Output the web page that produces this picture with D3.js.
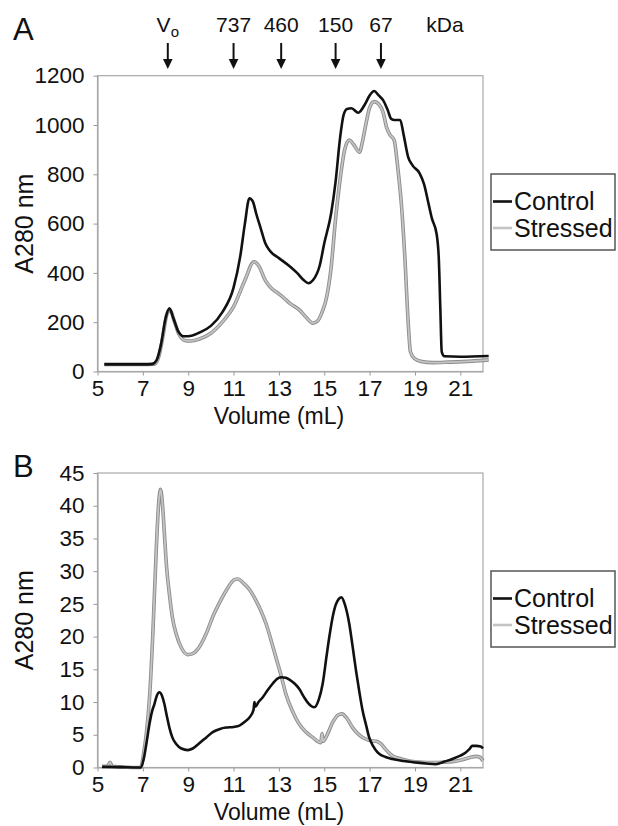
<!DOCTYPE html>
<html>
<head>
<meta charset="utf-8">
<script src="https://cdn.jsdelivr.net/npm/d3@7"></script>
<style>
  body { margin: 0; background: #fff; }
  svg text { font-family: "Liberation Sans", Arial, sans-serif; fill: #111; }
</style>
</head>
<body>
<svg id="chart" width="618" height="826"></svg>
<script>
// ---- data (volume mL, A280) ----
const markerVolumes = [8.1, 11, 13.1, 15.5, 17.5];
const markerLabels = ['V', '737', '460', '150', '67'];
const seriesNames = ['Control', 'Stressed'];

const controlA = [[5.3,29],[6,29],[7,29],[7.4,30],[7.6,45],[7.8,110],[8,215],[8.17,256],[8.35,215],[8.55,165],[8.8,143],[9,143],[9.5,158],[10,185],[10.5,240],[11,340],[11.3,470],[11.5,600],[11.7,703],[11.85,690],[12,640],[12.2,580],[12.4,520],[12.6,490],[13,460],[13.5,425],[13.8,400],[14.1,370],[14.3,358],[14.5,370],[14.8,430],[15,520],[15.3,640],[15.5,770],[15.7,950],[15.85,1040],[16,1065],[16.2,1068],[16.5,1050],[16.8,1085],[17,1120],[17.2,1138],[17.4,1120],[17.6,1100],[17.8,1060],[17.95,1025],[18.1,1020],[18.35,1020],[18.5,960],[18.7,870],[18.9,835],[19.2,805],[19.4,760],[19.6,680],[19.75,620],[19.95,560],[20.05,460],[20.12,250],[20.18,80],[20.3,62],[21,60],[22.25,63]];
const stressedA = [[5.3,29],[7,29],[7.5,30],[7.7,60],[7.9,150],[8.05,230],[8.2,250],[8.4,200],[8.6,150],[8.85,126],[9.1,124],[9.5,132],[10,155],[10.5,200],[11,263],[11.5,370],[11.9,445],[12.1,430],[12.4,370],[12.7,335],[13,315],[13.2,300],[13.5,275],[13.9,250],[14.2,220],[14.5,196],[14.7,205],[14.9,240],[15.1,300],[15.3,420],[15.5,620],[15.7,780],[15.9,900],[16.1,939],[16.3,920],[16.55,890],[16.7,940],[16.85,1010],[17,1070],[17.2,1095],[17.4,1085],[17.6,1050],[17.75,990],[17.9,960],[18.08,939],[18.25,820],[18.4,680],[18.55,470],[18.7,200],[18.8,80],[18.97,53],[19.3,40],[19.8,36],[20.5,38],[21.5,42],[22.25,47]];

const controlB = [[5.2,0.1],[6,0.05],[6.9,0],[7.05,1.5],[7.15,3.5],[7.29,6.6],[7.4,8.5],[7.51,9.7],[7.62,11],[7.73,11.5],[7.84,11],[7.95,9.7],[8.05,8],[8.17,6.1],[8.3,4.6],[8.47,3.6],[8.7,2.9],[8.98,2.65],[9.2,2.9],[9.49,3.7],[9.8,4.6],[10.08,5.4],[10.4,5.9],[10.67,6.1],[11,6.2],[11.26,6.4],[11.5,7],[11.7,7.65],[11.88,8.8],[11.92,10],[11.96,9.3],[12.1,10],[12.28,10.7],[12.5,11.8],[12.72,12.8],[12.9,13.5],[13.09,13.8],[13.3,13.7],[13.48,13.4],[13.7,12.8],[13.9,12],[14.1,10.8],[14.3,9.8],[14.56,9.2],[14.75,10.3],[14.93,12.8],[15.1,17],[15.22,19.9],[15.4,23.5],[15.52,25],[15.76,26],[15.9,25],[16.1,22],[16.25,18.5],[16.4,14.8],[16.55,11.5],[16.69,8.7],[16.85,6.4],[16.98,4.6],[17.15,3.3],[17.35,2.3],[17.7,1.6],[18,1.3],[18.5,1],[19.04,0.77],[19.5,0.6],[19.92,0.5],[20.3,0.9],[20.65,1.3],[21,1.8],[21.24,2.3],[21.4,2.8],[21.53,3.3],[21.7,3.3],[21.9,3.2],[22,2.9]];
const stressedB = [[5.2,0.2],[5.45,0.2],[5.55,0.8],[5.65,0.2],[6,0.1],[6.5,0],[6.9,0],[7.05,2.5],[7.15,5.1],[7.3,11],[7.44,20.4],[7.59,33.2],[7.7,40.5],[7.78,42.5],[7.87,40],[7.95,35.7],[8.05,30.5],[8.17,26.5],[8.3,23],[8.47,20.4],[8.7,18.3],[8.98,17.25],[9.2,17.4],[9.49,18.4],[9.8,20.5],[10.08,23],[10.4,25.3],[10.67,27],[11.04,28.7],[11.2,28.8],[11.4,28.3],[11.7,27.2],[11.99,25.5],[12.2,24],[12.43,22],[12.65,19.5],[12.87,16.8],[13.1,14],[13.31,11.2],[13.6,8.6],[13.9,6.6],[14.2,5.4],[14.49,4.6],[14.85,3.8],[14.9,5.2],[14.95,4],[15.1,4.8],[15.37,6.9],[15.6,8],[15.78,8.2],[16,7.5],[16.25,6.1],[16.5,5.1],[16.69,4.6],[17.06,4.1],[17.3,4],[17.5,3.6],[17.75,2.6],[18,1.8],[18.4,1.3],[18.74,1],[19.3,0.8],[19.77,0.77],[20.2,0.8],[20.65,0.9],[21,1.1],[21.39,1.5],[21.7,1.7],[21.85,1.6],[22,1]];

const xTicks = [5, 7, 9, 11, 13, 15, 17, 19, 21];
const yTicksA = [0, 200, 400, 600, 800, 1000, 1200];
const yTicksB = [0, 5, 10, 15, 20, 25, 30, 35, 40, 45];

const svg = d3.select('#chart');
const left = 97.5, right = 483;

// Función para dibujar un panel
function drawPanel(opt) {
  const x = d3.scaleLinear().domain([5, 22]).range([left, right]);
  const y = d3.scaleLinear().domain([0, opt.yMax]).range([opt.bottom, opt.top]);
  const g = svg.append('g');

  g.append('rect')
    .attr('x', left).attr('y', opt.top)
    .attr('width', right - left).attr('height', opt.bottom - opt.top)
    .attr('fill', 'none').attr('stroke', '#a8a8a8').attr('stroke-width', 1.2);

  const xa = g.append('g').attr('transform', `translate(0,${opt.bottom})`)
    .call(d3.axisBottom(x).tickValues(xTicks).tickFormat(d3.format('d'))
      .tickSize(4).tickPadding(5).tickSizeOuter(0));
  const ya = g.append('g').attr('transform', `translate(${left},0)`)
    .call(d3.axisLeft(y).tickValues(opt.yTicks).tickFormat(d3.format('d'))
      .tickSize(4).tickPadding(9).tickSizeOuter(0));
  [xa, ya].forEach(a => {
    a.select('.domain').attr('stroke', '#a8a8a8').attr('stroke-width', 1.2);
    a.selectAll('.tick line').attr('stroke', '#999');
    a.selectAll('.tick text').attr('font-size', 22.5).attr('fill', '#111')
      .style('font-family', '"Liberation Sans", Arial, sans-serif');
  });

  const line = d3.line().x(d => x(d[0])).y(d => y(d[1])).curve(d3.curveMonotoneX);

  // Stressed: gris claro con borde más oscuro
  g.append('path').datum(opt.stressed).attr('d', line)
    .attr('fill', 'none').attr('stroke', '#8c8c8c').attr('stroke-width', 3.6);
  g.append('path').datum(opt.stressed).attr('d', line)
    .attr('fill', 'none').attr('stroke', '#c4c4c4').attr('stroke-width', 1.8);
  // Control
  g.append('path').datum(opt.control).attr('d', line)
    .attr('fill', 'none').attr('stroke', '#111').attr('stroke-width', 2.6);

  // Títulos de ejes
  g.append('text').attr('x', 279).attr('y', opt.bottom + 52)
    .attr('text-anchor', 'middle').attr('font-size', 23).text('Volume (mL)');
  g.append('text')
    .attr('transform', `translate(33,${(opt.top + opt.bottom) / 2}) rotate(-90)`)
    .attr('text-anchor', 'middle').attr('font-size', 25).text('A280 nm');

  // Letra del panel
  g.append('text').attr('x', 13).attr('y', opt.letterY)
    .attr('font-size', 31).text(opt.letter);

  // Leyenda
  const lg = g.append('g').attr('transform', `translate(491,${opt.legendTop})`);
  lg.append('rect').attr('width', 124).attr('height', 76)
    .attr('fill', '#fff').attr('stroke', '#555').attr('stroke-width', 1.5);
  const colors = ['#111', '#c4c4c4'];
  seriesNames.forEach((name, i) => {
    lg.append('line').attr('x1', 2).attr('x2', 21)
      .attr('y1', 27.5 + i * 26.5).attr('y2', 27.5 + i * 26.5)
      .attr('stroke', colors[i]).attr('stroke-width', 2.6);
    lg.append('text').attr('x', 23).attr('y', 36 + i * 27)
      .attr('font-size', 25).text(name);
  });
  return x;
}

const xA = drawPanel({
  letter: 'A', letterY: 40, top: 75.7, bottom: 371.5, yMax: 1200, yTicks: yTicksA,
  control: controlA, stressed: stressedA, legendTop: 174
});
drawPanel({
  letter: 'B', letterY: 477, top: 473, bottom: 767.5, yMax: 45, yTicks: yTicksB,
  control: controlB, stressed: stressedB, legendTop: 571
});

// Flechas de marcadores de peso molecular
const mk = svg.append('g');
markerVolumes.forEach((v, i) => {
  const cx = xA(v);
  mk.append('line').attr('x1', cx).attr('x2', cx).attr('y1', 43).attr('y2', 61)
    .attr('stroke', '#111').attr('stroke-width', 2);
  mk.append('path')
    .attr('d', `M${cx - 4.8},59 L${cx + 4.8},59 L${cx},69 Z`).attr('fill', '#111');
  const t = mk.append('text').attr('x', cx).attr('y', 31.7)
    .attr('text-anchor', 'middle').attr('font-size', 21);
  if (i === 0) {
    t.append('tspan').text(markerLabels[i]);
    t.append('tspan').attr('font-size', 15).attr('dy', 5).text('o');
  } else {
    t.text(markerLabels[i]);
  }
});
mk.append('text').attr('x', 445).attr('y', 31.7).attr('text-anchor', 'middle')
  .attr('font-size', 21).text('kDa');
</script>
</body>
</html>
